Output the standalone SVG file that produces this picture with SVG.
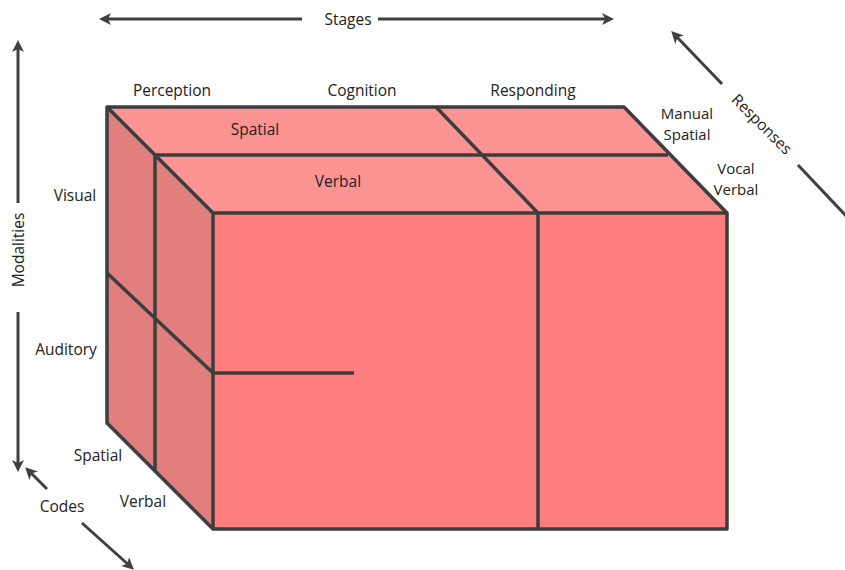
<svg xmlns="http://www.w3.org/2000/svg" width="845" height="570" viewBox="0 0 845 570">
<defs>
<style>
.t{font-family:"Open Sans","Noto Sans","Liberation Sans",sans-serif;font-size:15.5px;fill:#222;text-anchor:middle}
.s{font-size:15px}
.e{stroke:#3d3d3d;stroke-width:3.5;stroke-linejoin:round;fill:none}
.a{stroke:#404040;stroke-width:3;fill:none}
.top{fill:#FB9393}
.side{fill:#E17F7F}
.front{fill:#FF7F7F}
</style>
<marker id="ah" markerWidth="12" markerHeight="12" refX="8" refY="6" orient="auto-start-reverse" markerUnits="userSpaceOnUse">
<path d="M0,0 L12,6 L0,12 L3,6 Z" fill="#404040"/>
</marker>
</defs>
<rect width="845" height="570" fill="#fff"/>
<g id="cube">
<polygon class="top" points="107,107 624,107 727,213 213,213"/>
<polygon class="side" points="107,107 213,213 213,529 107,423"/>
<polygon class="front" points="213,213 727,213 727,529 213,529"/>
<polygon class="e" points="107,107 624,107 727,213 727,529 213,529 107,423"/>
<path class="e" d="M107,107 L213,213 L727,213 M213,213 L213,529 M155,155 L668,155 M436,107 L538,213 L538,529 M155,155 L155,471 M107,273 L213,373 L354,373"/>
</g>
<g id="connectors">
<line class="a" x1="302" y1="19" x2="103" y2="19" marker-end="url(#ah)"/>
<line class="a" x1="378" y1="19" x2="610" y2="19" marker-end="url(#ah)"/>
<line class="a" x1="18" y1="203" x2="18" y2="44" marker-end="url(#ah)"/>
<line class="a" x1="18" y1="312" x2="18" y2="468" marker-end="url(#ah)"/>
<line class="a" x1="722" y1="84" x2="674" y2="34" marker-end="url(#ah)"/>
<line class="a" x1="798" y1="165" x2="850" y2="220"/>
<line class="a" x1="47" y1="489" x2="28" y2="470" marker-end="url(#ah)"/>
<line class="a" x1="82" y1="523" x2="131" y2="567" marker-end="url(#ah)"/>
</g>
<g id="labels">
<text class="t" x="348" y="25">Stages</text>
<text class="t" transform="translate(24,250) rotate(-90)">Modalities</text>
<text class="t" transform="translate(758,128) rotate(45)">Responses</text>
<text class="t" x="62" y="512">Codes</text>
<text class="t" x="172" y="96">Perception</text>
<text class="t" x="362" y="96">Cognition</text>
<text class="t" x="533" y="96">Responding</text>
<text class="t" x="255" y="135">Spatial</text>
<text class="t" x="338" y="187">Verbal</text>
<text class="t s" x="687" y="119">Manual<tspan x="687" dy="21">Spatial</tspan></text>
<text class="t s" x="736" y="174">Vocal<tspan x="736" dy="21">Verbal</tspan></text>
<text class="t" x="75" y="201">Visual</text>
<text class="t" x="66" y="355">Auditory</text>
<text class="t" x="98" y="461">Spatial</text>
<text class="t" x="143" y="507">Verbal</text>
</g>
</svg>
